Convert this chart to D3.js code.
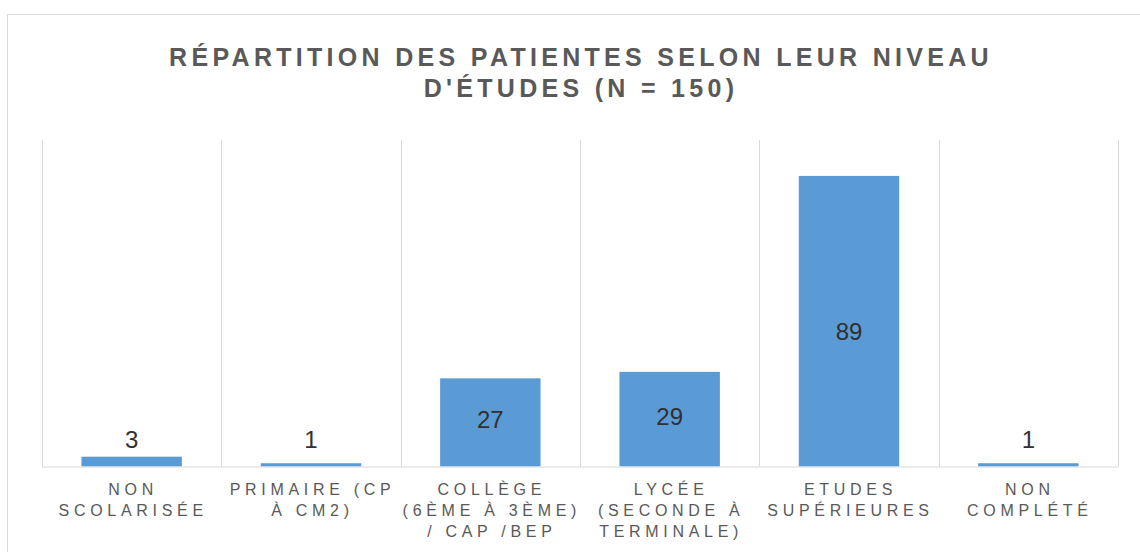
<!DOCTYPE html>
<html>
<head>
<meta charset="utf-8">
<script src="https://cdn.jsdelivr.net/npm/d3@7.9.0/dist/d3.min.js"></script>
<style>
  html, body { margin: 0; padding: 0; background: #fff; }
  svg { display: block; font-family: "Liberation Sans", Arial, sans-serif; }
</style>
</head>
<body>
<svg id="chart" width="1140" height="552"></svg>
<script>
// Data
const categories = ['nonScol', 'primaire', 'college', 'lycee', 'etudesSup', 'nonCompl'];
const tickLabels = [
  ['NON', 'SCOLARISÉE'],
  ['PRIMAIRE (CP', 'À CM2)'],
  ['COLLÈGE', '(6ÈME À 3ÈME)', '/ CAP /BEP'],
  ['LYCÉE', '(SECONDE À', 'TERMINALE)'],
  ['ETUDES', 'SUPÉRIEURES'],
  ['NON', 'COMPLÉTÉ']
];
const values = [3, 1, 27, 29, 89, 1];
const titleLines = ['RÉPARTITION DES PATIENTES SELON LEUR NIVEAU', "D'ÉTUDES (N = 150)"];

const svg = d3.select('#chart');
const margin = { left: 42, right: 22, top: 140, bottom: 85.5 };
const width = 1140, height = 552;

// outer chart frame (runs off the right and bottom of the picture)
svg.append('rect')
  .attr('x', 7.5).attr('y', 14.5)
  .attr('width', 1160).attr('height', 600)
  .attr('fill', '#fff')
  .attr('stroke', '#d9d9d9')
  .attr('stroke-width', 1);

// title
svg.append('text')
  .attr('y', 66)
  .attr('text-anchor', 'middle')
  .attr('font-size', 25)
  .attr('font-weight', 'bold')
  .attr('letter-spacing', 4.3)
  .attr('fill', '#595959')
  .selectAll('tspan')
  .data(titleLines)
  .join('tspan')
  .attr('x', 581)
  .attr('dy', (d, i) => i === 0 ? 0 : 31)
  .text(d => d);

const x = d3.scaleBand()
  .domain(categories)
  .range([margin.left, width - margin.right])
  .paddingInner(0.44)
  .paddingOuter(0.22);

const y = d3.scaleLinear()
  .domain([0, 100])
  .range([height - margin.bottom, margin.top]);

const step = x.step();
const base = y(0);

// vertical category separators
const bounds = d3.range(categories.length + 1).map(i => margin.left + i * step);
svg.append('g')
  .selectAll('line')
  .data(bounds)
  .join('line')
  .attr('x1', d => Math.round(d) + 0.5)
  .attr('x2', d => Math.round(d) + 0.5)
  .attr('y1', y(100))
  .attr('y2', base)
  .attr('stroke', '#d9d9d9')
  .attr('stroke-width', 1);

// bars
svg.append('g')
  .selectAll('rect')
  .data(values)
  .join('rect')
  .attr('x', (d, i) => x(categories[i]))
  .attr('width', x.bandwidth())
  .attr('y', d => y(d))
  .attr('height', d => base - y(d))
  .attr('fill', '#5b9bd5');

// baseline
svg.append('line')
  .attr('x1', margin.left).attr('x2', width - margin.right)
  .attr('y1', base + 0.5).attr('y2', base + 0.5)
  .attr('stroke', '#d9d9d9')
  .attr('stroke-width', 1.2);

// value labels
svg.append('g')
  .selectAll('text')
  .data(values)
  .join('text')
  .attr('x', (d, i) => x(categories[i]) + x.bandwidth() / 2)
  .attr('y', d => d > 10 ? (y(d) + base) / 2 + (d > 50 ? 10 : -3) : base - 27)
  .attr('dy', '0.35em')
  .attr('text-anchor', 'middle')
  .attr('font-size', 24)
  .attr('fill', '#303030')
  .text(d => d);

// category labels
const ticks = svg.append('g')
  .selectAll('text')
  .data(tickLabels)
  .join('text')
  .attr('text-anchor', 'middle')
  .attr('font-size', 16)
  .attr('letter-spacing', 4.7)
  .attr('fill', '#595959')
  .attr('transform', (d, i) => `translate(${x(categories[i]) + x.bandwidth() / 2 + 1.5},${base + 23})`);

ticks.selectAll('tspan')
  .data(d => d)
  .join('tspan')
  .attr('x', 0)
  .attr('y', (d, i) => i * 21)
  .attr('dy', '0.35em')
  .text(d => d);
</script>
</body>
</html>
